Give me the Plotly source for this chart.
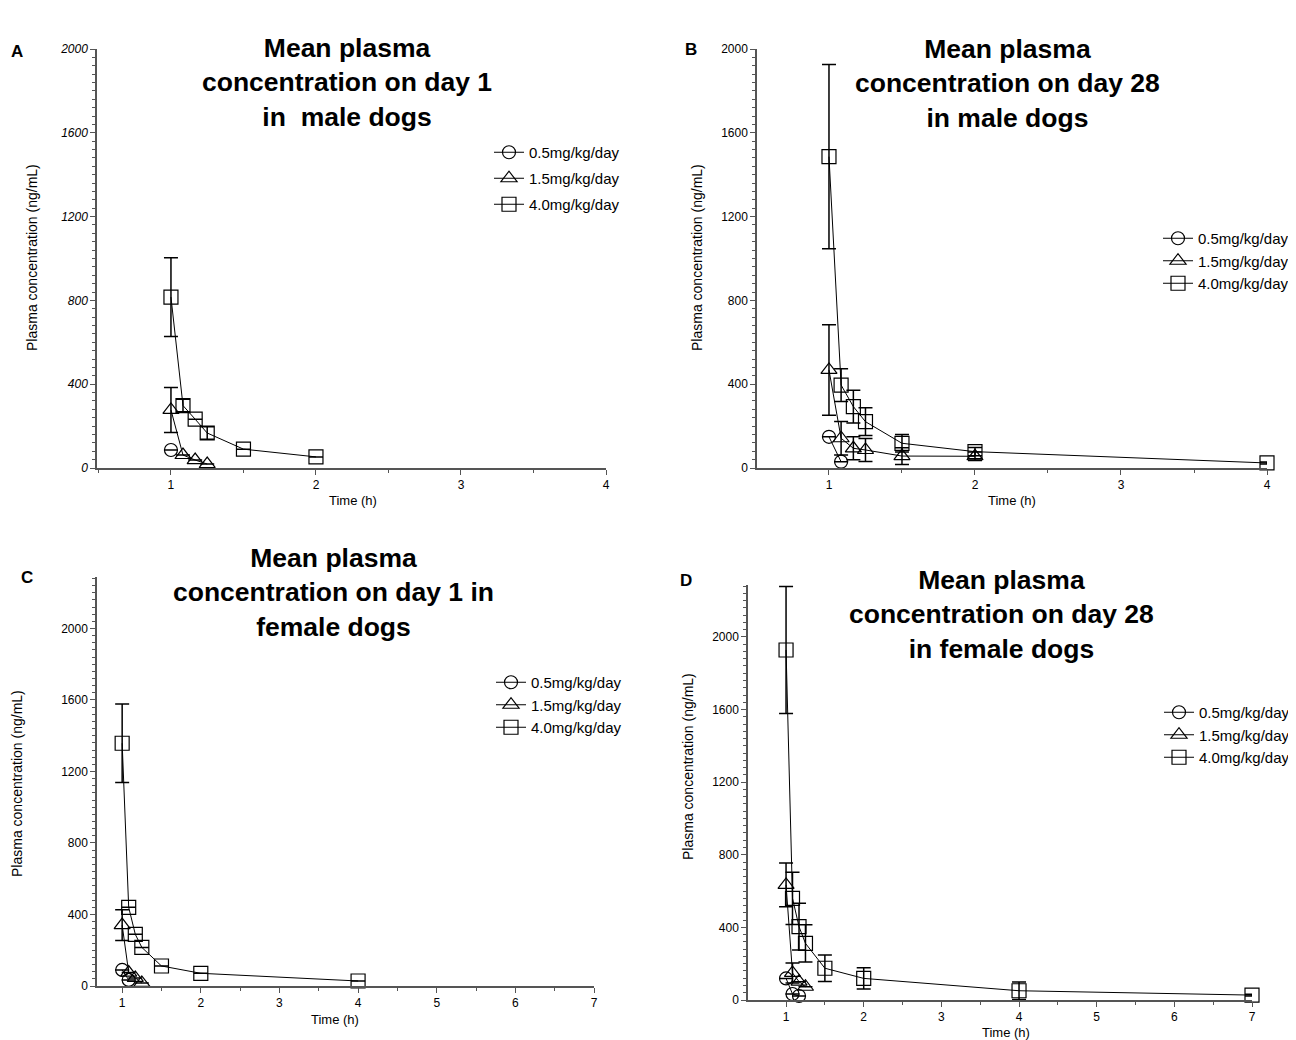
import plotly.graph_objects as go

# ---------------- data ----------------
DOSES = ["0.5mg/kg/day", "1.5mg/kg/day", "4.0mg/kg/day"]

# Panel A: day 1, male dogs
A_t_low = [1.0]
A_c_low = [86]
A_e_low = [0]
A_t_mid = [1.0, 1.083, 1.167, 1.25]
A_c_mid = [277, 62, 38, 19]
A_e_mid = [107, 0, 0, 0]
A_t_high = [1.0, 1.083, 1.167, 1.25, 1.5, 2.0]
A_c_high = [816, 298, 233, 167, 90, 53]
A_e_high = [188, 30, 0, 30, 0, 0]

# Panel B: day 28, male dogs
B_t_low = [1.0, 1.083]
B_c_low = [149, 30]
B_e_low = [0, 0]
B_t_mid = [1.0, 1.083, 1.167, 1.25, 1.5, 2.0]
B_c_mid = [468, 142, 94, 86, 57, 56]
B_e_mid = [216, 80, 55, 55, 40, 20]
B_t_high = [1.0, 1.083, 1.167, 1.25, 1.5, 2.0, 4.0]
B_c_high = [1486, 396, 293, 221, 118, 78, 24]
B_e_high = [440, 78, 78, 66, 42, 20, 5]

# Panel C: day 1, female dogs
C_t_low = [1.0, 1.083]
C_c_low = [90, 34]
C_e_low = [0, 0]
C_t_mid = [1.0, 1.083, 1.167, 1.25]
C_c_mid = [341, 75, 45, 17]
C_e_mid = [86, 0, 0, 0]
C_t_high = [1.0, 1.083, 1.167, 1.25, 1.5, 2.0, 4.0]
C_c_high = [1358, 440, 289, 216, 112, 71, 28]
C_e_high = [219, 0, 0, 0, 0, 0, 0]

# Panel D: day 28, female dogs
D_t_low = [1.0, 1.083, 1.167]
D_c_low = [119, 33, 22]
D_e_low = [0, 0, 0]
D_t_mid = [1.0, 1.083, 1.167, 1.25]
D_c_mid = [634, 149, 101, 73]
D_e_mid = [120, 55, 0, 0]
D_t_high = [1.0, 1.083, 1.167, 1.25, 1.5, 2.0, 4.0, 7.0]
D_c_high = [1928, 560, 404, 312, 175, 119, 51, 27]
D_e_high = [350, 144, 129, 103, 73, 58, 48, 5]

TITLES = [
    "Mean plasma<br>concentration on day 1<br>in  male dogs",
    "Mean plasma<br>concentration on day 28<br>in male dogs",
    "Mean plasma<br>concentration on day 1 in<br>female dogs",
    "Mean plasma<br>concentration on day 28<br>in female dogs",
]
LETTERS = ["A", "B", "C", "D"]
Y_LABEL = "Plasma concentration (ng/mL)"
X_LABEL = "Time (h)"
Y_TICKS = [0, 400, 800, 1200, 1600, 2000]
X_TICKS_AB = [1, 2, 3, 4]
X_TICKS_CD = [1, 2, 3, 4, 5, 6, 7]

# ---------------- layout helpers ----------------
# the page body has an 8px margin, so the figure fills the rest of the window
OFF = 8
W, H = 1296 - OFF, 1040 - OFF
FONT = "Arial, Liberation Sans, sans-serif"
AX = "#555555"

def px(x):
    return (x - OFF) / W

def py(y):
    return 1 - (y - OFF) / H

SYMBOLS = ["circle-open", "triangle-up-open", "square-open"]
SIZES = [13, 14, 14]

panels = [
    dict(data=[(A_t_low, A_c_low, A_e_low), (A_t_mid, A_c_mid, A_e_mid), (A_t_high, A_c_high, A_e_high)],
         xdom=(97, 606), ydom=(468, 49), xr=[0.49, 4], yr=[0, 2000], xt=X_TICKS_AB, italic=True,
         legend=dict(x=489, y=136, gap=3.5), title=(347, 82), letter=(17, 52),
         ylab=(32, 258), xlab=(353, 501)),
    dict(data=[(B_t_low, B_c_low, B_e_low), (B_t_mid, B_c_mid, B_e_mid), (B_t_high, B_c_high, B_e_high)],
         xdom=(757, 1267), ydom=(468, 49), xr=[0.507, 4], yr=[0, 2000], xt=X_TICKS_AB, italic=False,
         legend=dict(x=1158, y=222, gap=0), title=(1007, 83), letter=(691, 50),
         ylab=(697, 258), xlab=(1012, 501)),
    dict(data=[(C_t_low, C_c_low, C_e_low), (C_t_mid, C_c_mid, C_e_mid), (C_t_high, C_c_high, C_e_high)],
         xdom=(97, 594), ydom=(986, 577), xr=[0.68, 7], yr=[0, 2288], xt=X_TICKS_CD, italic=False,
         legend=dict(x=491, y=666, gap=0), title=(333, 592), letter=(27, 577),
         ylab=(17, 784), xlab=(335, 1019)),
    dict(data=[(D_t_low, D_c_low, D_e_low), (D_t_mid, D_c_mid, D_e_mid), (D_t_high, D_c_high, D_e_high)],
         xdom=(748, 1252), ydom=(1000, 585), xr=[0.51, 7], yr=[0, 2286], xt=X_TICKS_CD, italic=False,
         legend=dict(x=1159, y=696, gap=0), title=(1001, 614), letter=(686, 580),
         ylab=(688, 767), xlab=(1006, 1032)),
]

fig = go.Figure()
annotations = []
layout = dict(
    width=W, height=H,
    margin=dict(l=0, r=0, t=0, b=0, pad=0, autoexpand=False),
    paper_bgcolor="white", plot_bgcolor="white",
    font=dict(family=FONT, color="black"),
)

for i, p in enumerate(panels):
    n = "" if i == 0 else str(i + 1)
    xname, yname = "x" + n, "y" + n
    legname = "legend" + n
    # error bars first (behind lines and symbols)
    for j, (t, c, e) in enumerate(p["data"]):
        fig.add_trace(go.Scatter(
            x=t, y=c, mode="markers", showlegend=False, hoverinfo="skip",
            xaxis=xname, yaxis=yname, legend=legname,
            marker=dict(size=2, color="rgba(0,0,0,0)"),
            error_y=dict(type="data", array=e, symmetric=True, visible=True,
                         color="black", thickness=1.5, width=7),
            cliponaxis=False,
        ))
    for j, (t, c, e) in enumerate(p["data"]):
        fig.add_trace(go.Scatter(
            x=t, y=c, name=DOSES[j], mode="lines+markers",
            xaxis=xname, yaxis=yname, legend=legname,
            legendgroup=f"{legname}_{j}",
            line=dict(color="black", width=1),
            marker=dict(symbol=SYMBOLS[j], size=SIZES[j], color="black", line=dict(width=1.2)),
            cliponaxis=False,
        ))
    tickfont = dict(family=FONT, size=12, color="black")
    ytickfont = dict(tickfont)
    if p["italic"]:
        ytickfont["style"] = "italic"
    layout["xaxis" + n] = dict(
        domain=[px(p["xdom"][0]), px(p["xdom"][1])], range=p["xr"], anchor=yname,
        tickmode="array", tickvals=p["xt"], ticks="outside", ticklen=5, tickwidth=1.2,
        tickcolor=AX, showline=True, linecolor=AX, linewidth=1.5, showgrid=False,
        zeroline=False, tickfont=tickfont,
        minor=dict(dtick=0.5, tick0=0, ticks="outside", ticklen=3, tickcolor=AX, showgrid=False),
    )
    layout["yaxis" + n] = dict(
        domain=[py(p["ydom"][0]), py(p["ydom"][1])], range=p["yr"], anchor=xname,
        tickmode="array", tickvals=Y_TICKS, ticks="outside", ticklen=5, tickwidth=1.2,
        tickcolor=AX, showline=True, linecolor=AX, linewidth=1.5, showgrid=False,
        zeroline=False, tickfont=ytickfont,
        minor=dict(dtick=40, tick0=0, ticks="outside", ticklen=3, tickcolor=AX, showgrid=False),
    )
    lg = p["legend"]
    layout[legname] = dict(
        x=px(lg["x"]), y=py(lg["y"]), xanchor="left", yanchor="top",
        bgcolor="rgba(0,0,0,0)", font=dict(family=FONT, size=15, color="black"),
        tracegroupgap=lg["gap"],
    )
    annotations.append(dict(
        text="<b>" + TITLES[i] + "</b>", x=px(p["title"][0]), y=py(p["title"][1]),
        xref="paper", yref="paper", xanchor="center", yanchor="middle", showarrow=False,
        align="center", font=dict(family=FONT, size=26.5, color="black"),
    ))
    annotations.append(dict(
        text="<b>" + LETTERS[i] + "</b>", x=px(p["letter"][0]), y=py(p["letter"][1]),
        xref="paper", yref="paper", xanchor="center", yanchor="middle", showarrow=False,
        font=dict(family=FONT, size=17, color="black"),
    ))
    annotations.append(dict(
        text=Y_LABEL, x=px(p["ylab"][0]), y=py(p["ylab"][1]), textangle=-90,
        xref="paper", yref="paper", xanchor="center", yanchor="middle", showarrow=False,
        font=dict(family=FONT, size=14, color="black"),
    ))
    annotations.append(dict(
        text=X_LABEL, x=px(p["xlab"][0]), y=py(p["xlab"][1]),
        xref="paper", yref="paper", xanchor="center", yanchor="middle", showarrow=False,
        font=dict(family=FONT, size=13, color="black"),
    ))

layout["annotations"] = annotations
fig.update_layout(**layout)
fig.write_html("out.html")
